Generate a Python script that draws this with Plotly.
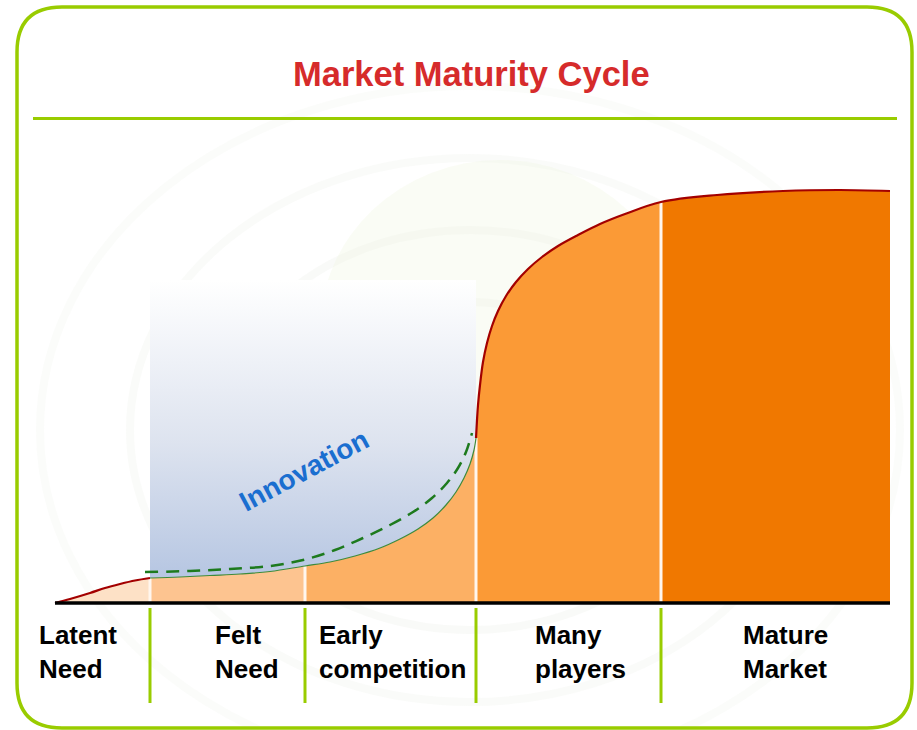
import plotly.graph_objects as go

# ---------------- data ----------------
# time axis: 0 = start of the curve, market size: 0 = baseline
stage_names = ["Latent<br>Need", "Felt<br>Need", "Early<br>competition",
               "Many<br>players", "Mature<br>Market"]
stage_bounds = [0, 95, 250, 421, 606, 835]

latent_t = [0, 15, 35, 50, 65, 80, 95]
latent_v = [0, 4, 10, 15, 19, 22.5, 25]

felt_t = [95, 125, 155, 185, 215, 250]
felt_v = [25, 26, 27.5, 29, 31.5, 37]

early_t = [250, 275, 300, 325, 345, 363, 378, 391, 401, 409, 415, 419, 421]
early_v = [37, 41, 47, 55, 64, 74, 85, 98, 111, 125, 139, 153, 165]

many_t = [421, 422, 423, 425, 428, 432, 437, 443, 451, 461, 473, 487, 503, 523, 545, 570, 606]
many_v = [165, 183, 198, 218, 241, 260, 277, 292, 307, 321, 334, 346, 357, 368, 379, 389, 401]

mature_t = [606, 662, 728, 785, 835]
mature_v = [401, 408, 412, 413, 412]

innov_top = 323
dash_t = [90, 135, 175, 215, 248, 280, 308, 335, 358, 377, 392, 403, 411, 417]
dash_v = [31, 32, 34, 37, 43, 53, 65, 78, 91, 105, 120, 135, 151, 170]

stage_colors = ["#fde1c6", "#fdc490", "#fcb064", "#fb9a36", "#f07800"]

segments = [(latent_t, latent_v), (felt_t, felt_v), (early_t, early_v),
            (many_t, many_v), (mature_t, mature_v)]

# ---------------- figure ----------------
X0, Y0 = 55, 603          # pixel position of the origin (for layout items)
def px(x):
    return x - X0
def py(y):
    return Y0 - y

fig = go.Figure()

# background decoration (very faint swirls)
shapes = []
for r, op in [(430, 0.10), (340, 0.13), (250, 0.15), (160, 0.15)]:
    shapes.append(dict(type="circle", xref="x", yref="y", layer="below",
                       x0=px(470 - r), x1=px(470 + r), y0=py(430 + r * 0.8), y1=py(430 - r * 0.8),
                       line=dict(color="rgba(215,222,205,%.2f)" % op, width=8)))
shapes.append(dict(type="circle", xref="x", yref="y", layer="below",
                   x0=px(320), x1=px(680), y0=py(500), y1=py(160),
                   fillcolor="rgba(238,246,222,0.30)", line=dict(width=0)))

# innovation gradient area (between curve and top line)
fig.add_trace(go.Scatter(x=felt_t + early_t[1:], y=felt_v + early_v[1:], mode="lines",
                         line=dict(width=0, shape="spline"), hoverinfo="skip", showlegend=False))
fig.add_trace(go.Scatter(x=[stage_bounds[1], stage_bounds[3]], y=[innov_top, innov_top],
                         mode="lines", line=dict(width=0), fill="tonexty",
                         fillgradient=dict(type="vertical",
                                           colorscale=[[0, "#b6c6e2"], [0.45, "#dde3ef"], [1, "#ffffff"]]),
                         hoverinfo="skip", showlegend=False))

# stage fills
for (t, v), c in zip(segments, stage_colors):
    fig.add_trace(go.Scatter(x=t, y=v, mode="lines", fill="tozeroy", fillcolor=c,
                             line=dict(width=0, shape="spline"),
                             hoverinfo="skip", showlegend=False))

# white separators between stages
sep_v = [latent_v[-1], felt_v[-1], early_v[-1], many_v[-1]]
for b, v in zip(stage_bounds[1:5], sep_v):
    fig.add_trace(go.Scatter(x=[b, b], y=[0, v], mode="lines",
                             line=dict(color="#fff6ee", width=3),
                             hoverinfo="skip", showlegend=False))

# curve outlines
fig.add_trace(go.Scatter(x=latent_t, y=latent_v, mode="lines",
                         line=dict(color="#a30000", width=2.2, shape="spline"),
                         hoverinfo="skip", showlegend=False))
fig.add_trace(go.Scatter(x=felt_t + early_t[1:], y=felt_v + early_v[1:], mode="lines",
                         line=dict(color="#3c8a3c", width=1.2, shape="spline"),
                         hoverinfo="skip", showlegend=False))
fig.add_trace(go.Scatter(x=many_t + mature_t[1:], y=many_v + mature_v[1:], mode="lines",
                         line=dict(color="#a30000", width=2.2, shape="spline"),
                         hoverinfo="skip", showlegend=False))

# dashed innovation curve
fig.add_trace(go.Scatter(x=dash_t, y=dash_v, mode="lines",
                         line=dict(color="#1d7a1d", width=2.5, dash="13px,8px", shape="spline"),
                         hoverinfo="skip", showlegend=False))

# baseline
fig.add_trace(go.Scatter(x=[stage_bounds[0], stage_bounds[-1]], y=[0, 0], mode="lines",
                         line=dict(color="#000000", width=3.5),
                         hoverinfo="skip", showlegend=False))

# green separators under the axis
for b in stage_bounds[1:5]:
    shapes.append(dict(type="line", xref="x", yref="y", x0=b, x1=b, y0=py(608), y1=py(703),
                       line=dict(color="#99cc00", width=3)))

# frame + title rule
r = 45
L, R, T, B = 17, 912, 7, 728
path = (f"M {px(L)},{py(T + r)} Q {px(L)},{py(T)} {px(L + r)},{py(T)} "
        f"L {px(R - r)},{py(T)} Q {px(R)},{py(T)} {px(R)},{py(T + r)} "
        f"L {px(R)},{py(B - r)} Q {px(R)},{py(B)} {px(R - r)},{py(B)} "
        f"L {px(L + r)},{py(B)} Q {px(L)},{py(B)} {px(L)},{py(B - r)} Z")
shapes.append(dict(type="path", xref="x", yref="y", path=path,
                   line=dict(color="#99cc00", width=3.5)))
shapes.append(dict(type="line", xref="x", yref="y", x0=px(33), x1=px(897), y0=py(118.5), y1=py(118.5),
                   line=dict(color="#99cc00", width=3)))

annotations = []
annotations.append(dict(x=px(471), y=py(74), xref="x", yref="y", showarrow=False,
                        text="<b>Market Maturity Cycle</b>",
                        font=dict(family="Liberation Sans, Arial", size=34.5, color="#d62b2b"),
                        xanchor="center", yanchor="middle"))
annotations.append(dict(x=px(304), y=py(470), xref="x", yref="y", showarrow=False,
                        text="<b>Innovation</b>", textangle=-28,
                        font=dict(family="Liberation Sans, Arial", size=28, color="#1a6ed0"),
                        xanchor="center", yanchor="middle"))
label_left = [37, 213, 317, 533, 741]
for name, lx in zip(stage_names, label_left):
    annotations.append(dict(x=px(lx), y=py(652), xref="x", yref="y", showarrow=False,
                            text="<b>" + name.replace("<br>", "</b><br><b>") + "</b>",
                            align="left", xanchor="left", yanchor="middle",
                            font=dict(family="Liberation Sans, Arial", size=26, color="#000000")))

fig.update_layout(
    width=917, height=730,
    margin=dict(l=0, r=0, t=0, b=0, pad=0),
    paper_bgcolor="#ffffff", plot_bgcolor="rgba(0,0,0,0)",
    xaxis=dict(range=[px(0), px(917)], visible=False, fixedrange=True),
    yaxis=dict(range=[py(730), py(0)], visible=False, fixedrange=True),
    shapes=shapes, annotations=annotations, showlegend=False,
)

fig.write_html("out.html", config={"displayModeBar": False},
               post_script="document.body.style.margin='0';")
